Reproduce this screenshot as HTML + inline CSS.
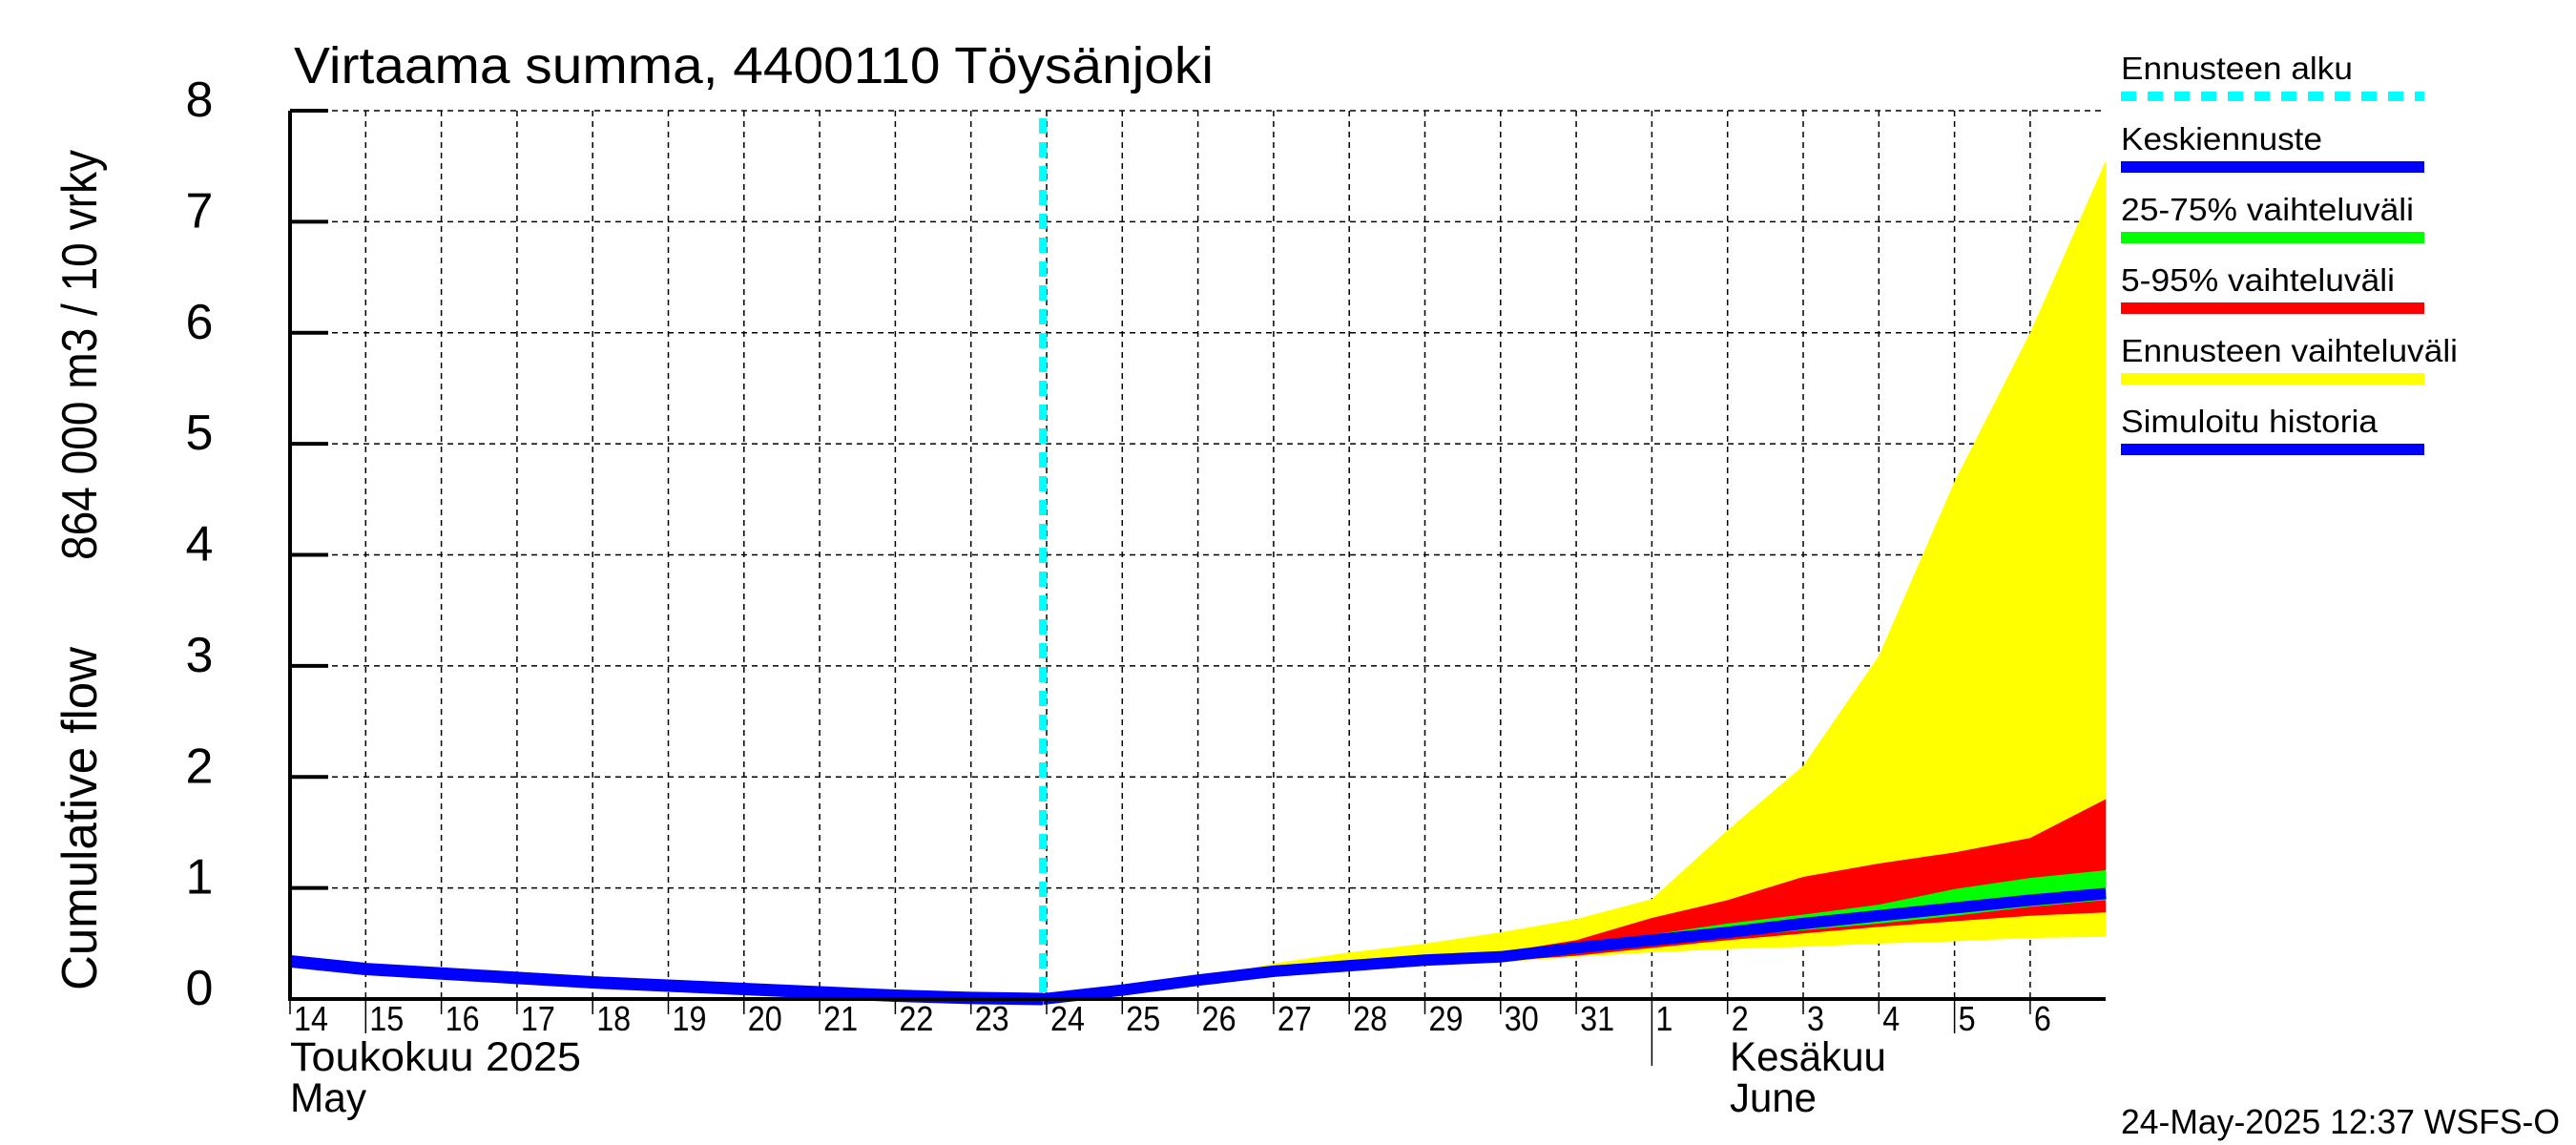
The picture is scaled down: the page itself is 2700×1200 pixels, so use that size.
<!DOCTYPE html>
<html><head><meta charset="utf-8"><style>
html,body{margin:0;padding:0;background:#fff;}
svg{display:block;font-family:"Liberation Sans",sans-serif;}
</style></head><body>
<svg id="chart" width="2700" height="1200" viewBox="0 0 2700 1200" xmlns="http://www.w3.org/2000/svg">
<rect x="0" y="0" width="2700" height="1200" fill="#fff"/>
<g id="grid"></g>
<g id="bands"></g>
<g id="lines"></g>
<g id="axes"></g>
<text x="308" y="87" font-size="54" textLength="964" lengthAdjust="spacingAndGlyphs">Virtaama summa, 4400110 Töysänjoki</text>
<text transform="translate(101,858) rotate(-90)" text-anchor="middle" font-size="52" textLength="360" lengthAdjust="spacingAndGlyphs">Cumulative flow</text>
<text transform="translate(101,372) rotate(-90)" text-anchor="middle" font-size="52" textLength="430" lengthAdjust="spacingAndGlyphs">864 000 m3 / 10 vrky</text>
<text x="304" y="1122" font-size="43" textLength="305" lengthAdjust="spacingAndGlyphs">Toukokuu  2025</text>
<text x="304" y="1165" font-size="43" textLength="80" lengthAdjust="spacingAndGlyphs">May</text>
<text x="1813" y="1122" font-size="43" textLength="164" lengthAdjust="spacingAndGlyphs">Kesäkuu</text>
<text x="1813" y="1165" font-size="43" textLength="91" lengthAdjust="spacingAndGlyphs">June</text>
<text x="2223" y="1188" font-size="36" textLength="460" lengthAdjust="spacingAndGlyphs">24-May-2025 12:37 WSFS-O</text>
<g id="legend"></g>
</svg>
<script>
const histDays = [0,1,2,3,4,5,6,7,8,9,9.95];
const histValues = [0.34,0.27,0.23,0.19,0.15,0.12,0.09,0.06,0.03,0.01,0.0];
const fcDays = [9.95,11,12,13,14,15,16,17,18,19,20,21,22,23,24];
const meanValues = [0.0,0.08,0.17,0.25,0.30,0.35,0.38,0.46,0.53,0.60,0.68,0.75,0.82,0.89,0.95];
const p25Values = [0.0,0.08,0.17,0.25,0.30,0.35,0.38,0.45,0.49,0.56,0.62,0.68,0.75,0.83,0.89];
const p75Values = [0.0,0.08,0.17,0.25,0.30,0.35,0.39,0.47,0.58,0.68,0.76,0.85,0.99,1.09,1.16];
const p5Values = [0.0,0.08,0.17,0.24,0.29,0.34,0.34,0.39,0.46,0.53,0.59,0.65,0.70,0.75,0.78];
const p95Values = [0.0,0.08,0.17,0.26,0.31,0.37,0.42,0.53,0.73,0.89,1.10,1.22,1.32,1.45,1.80];
const minValues = [0.0,0.08,0.16,0.23,0.28,0.32,0.33,0.38,0.42,0.45,0.47,0.50,0.52,0.55,0.56];
const maxValues = [0.0,0.09,0.18,0.32,0.42,0.50,0.60,0.72,0.90,1.52,2.10,3.09,4.66,6.00,7.55];
const yTicks = [0,1,2,3,4,5,6,7,8];
const xTickLabels = ["14","15","16","17","18","19","20","21","22","23","24","25","26","27","28","29","30","31","1","2","3","4","5","6"];
const forecastStartDay = 9.95;

const L=304,R=2207,T=116,B=1047,DAYW=79.3;
const X=d=>L+d*DAYW;
const Y=v=>B-v*(B-T)/8;
const NS="http://www.w3.org/2000/svg";
function mk(tag,attrs,parent){const e=document.createElementNS(NS,tag);for(const k in attrs)e.setAttribute(k,attrs[k]);document.getElementById(parent).appendChild(e);return e;}

for(let i=1;i<xTickLabels.length;i++){
  const g=mk('line',{x1:X(i),x2:X(i),y1:T,y2:B,stroke:'#000','stroke-width':1.5,'stroke-dasharray':'6,5'},'grid');
  
  
}
yTicks.forEach(v=>{ if(v===0)return;
  const g=mk('line',{x1:L,x2:R,y1:Y(v),y2:Y(v),stroke:'#000','stroke-width':1.5,'stroke-dasharray':'6,5'},'grid');
  
  
});

function band(upper,lower,color,name){
  let pts=fcDays.map((d,i)=>X(d)+','+Y(upper[i]));
  for(let i=fcDays.length-1;i>=0;i--)pts.push(X(fcDays[i])+','+Y(lower[i]));
  const p=mk('polygon',{points:pts.join(' '),fill:color},'bands');
  
  
}
band(maxValues,minValues,'#ffff00','full-range-band');
band(p95Values,p5Values,'#ff0000','band-5-95');
band(p75Values,p25Values,'#00ff00','band-25-75');

const hl=mk('polyline',{points:histDays.map((d,i)=>X(d)+','+Y(histValues[i])).join(' '),fill:'none',stroke:'#0000ff','stroke-width':13},'lines');


const ml=mk('polyline',{points:fcDays.map((d,i)=>X(d)+','+Y(meanValues[i])).join(' '),fill:'none',stroke:'#0000ff','stroke-width':12},'lines');


const fs=mk('line',{x1:X(forecastStartDay),x2:X(forecastStartDay),y1:T+8,y2:B,stroke:'#00ffff','stroke-width':8,'stroke-dasharray':'16,9'},'lines');



const ax=mk('path',{d:`M${L},${T} V${B} H${R}`,fill:'none',stroke:'#000','stroke-width':4},'axes');


yTicks.forEach(v=>{
  const t=mk('line',{x1:L,x2:L+40,y1:Y(v),y2:Y(v),stroke:'#000','stroke-width':4},'axes');
  
  
  const tx=mk('text',{x:209,y:Y(v)+6,'font-size':52,'text-anchor':'middle'},'axes');
  
  
  tx.textContent=v;
});
xTickLabels.forEach((lab,i)=>{
  const long=(i===1||i===22);
  const t=mk('line',{x1:X(i),x2:X(i),y1:B,y2:B+(i===18?70:(long?36:16)),stroke:'#000','stroke-width':1.5},'axes');
  
  
  const tx=mk('text',{x:X(i)+4,y:1080,'font-size':36,textLength:lab.length*18,lengthAdjust:'spacingAndGlyphs'},'axes');
  
  
  tx.textContent=lab;
});

const legendLabels=["Ennusteen alku","Keskiennuste","25-75% vaihteluväli","5-95% vaihteluväli","Ennusteen vaihteluväli","Simuloitu historia"];
const legendColors=["#00ffff","#0000ff","#00ff00","#ff0000","#ffff00","#0000ff"];
const legendWidths=[243,211,307,287,353,269];
legendLabels.forEach((lab,i)=>{
  const y0=83+i*74;
  const tx=mk('text',{x:2223,y:y0,'font-size':33,textLength:legendWidths[i],lengthAdjust:'spacingAndGlyphs'},'legend');
  
  
  tx.textContent=lab;
  const attrs={x1:2223,x2:2541,y1:y0+18,y2:y0+18,stroke:legendColors[i],'stroke-width':i===0?10:12};
  if(i===0)attrs['stroke-dasharray']='16,12';
  const ln=mk('line',attrs,'legend');
  
  
});
</script>
</body></html>
